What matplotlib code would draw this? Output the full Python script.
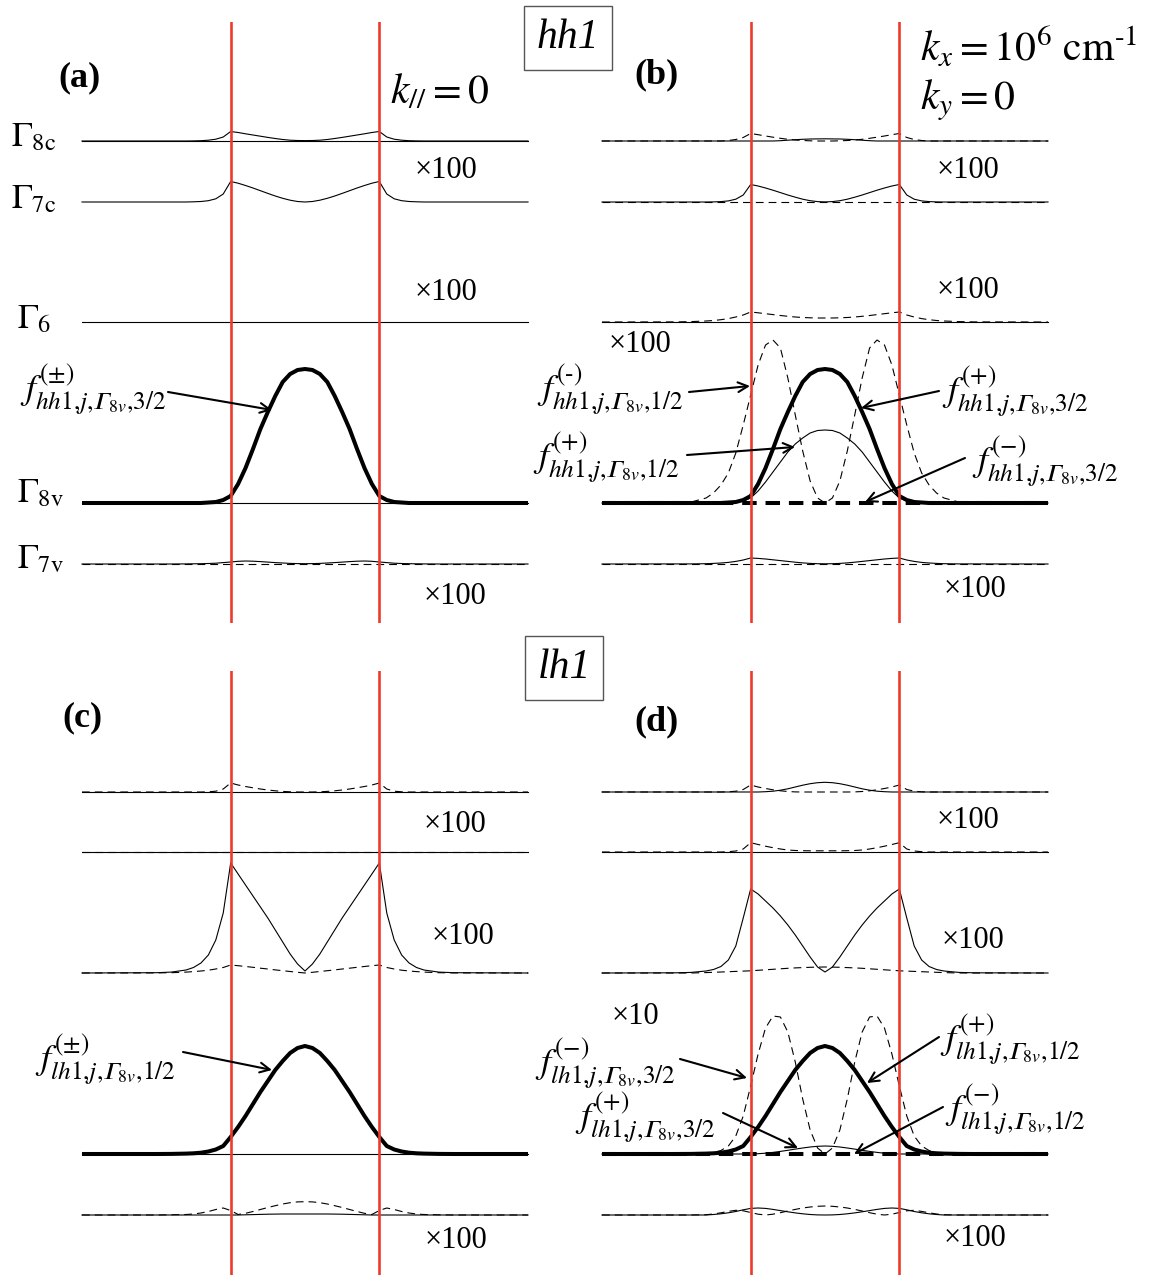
import matplotlib
matplotlib.use("Agg")
import matplotlib.pyplot as plt
import numpy as np

plt.rcParams['font.family'] = ['Liberation Serif', 'DejaVu Serif']
plt.rcParams['mathtext.fontset'] = 'stix'

W, H = 1153, 1277

# ---------------- data ----------------
# sample positions along growth axis, in units of the well width (well = 0..1)
XS = [-1.0, -0.5, -0.4, -0.3, -0.25, -0.2, -0.15, -0.1, -0.05,
      0.0, 0.05, 0.1, 0.15, 0.2, 0.25, 0.3, 0.35, 0.4, 0.45, 0.5,
      0.55, 0.6, 0.65, 0.7, 0.75, 0.8, 0.85, 0.9, 0.95, 1.0,
      1.05, 1.1, 1.15, 1.2, 1.25, 1.3, 1.4, 1.5, 2.0]
WELL_EDGES = [0.0, 1.0]
ZERO = [0.0] * 39

# displayed envelope amplitudes (a.u., including the x100 / x10 magnifications)
HH1_MAIN = [0, 0, 0, 0, 0, 0, 0.5, 1, 3,
            7, 19, 35, 54, 74, 91, 107, 121, 129, 133, 134, 133, 129, 121, 107, 91, 74, 54, 35, 19, 7,
            3, 1, 0.5, 0, 0, 0, 0, 0, 0]
LH1_MAIN = [0, 0, 0.1, 0.4, 0.7, 1.3, 2.5, 4.5, 8,
            17, 27, 38, 50, 62, 73, 84, 93, 101, 106, 108, 106, 101, 93, 84, 73, 62, 50, 38, 27, 17,
            8, 4.5, 2.5, 1.3, 0.7, 0.4, 0.1, 0, 0]

# panel (a)  hh1, k=0
A_G8C = [0, 0, 0, 0, 0.1, 0.3, 0.8, 1.8, 4,
         9.5, 8.5, 7.2, 6.0, 4.8, 3.6, 2.5, 1.5, 0.8, 0.5, 0.4, 0.5, 0.8, 1.5, 2.5, 3.6, 4.8, 6.0, 7.2, 8.5, 9.5,
         4, 1.8, 0.8, 0.3, 0.1, 0, 0, 0, 0]
A_G7C = [0, 0, 0, 0, 0.2, 0.5, 1.3, 3.2, 8,
         20.5, 18.8, 16.5, 14.0, 11.3, 8.6, 6.0, 3.7, 1.8, 0.5, 0, 0.5, 1.8, 3.7, 6.0, 8.6, 11.3, 14.0, 16.5, 18.8, 20.5,
         8, 3.2, 1.3, 0.5, 0.2, 0, 0, 0, 0]
A_G7V = [0, 0, 0, 0.1, 0.2, 0.3, 0.5, 0.8, 1.4,
         2.0, 2.7, 3.0, 2.8, 2.4, 1.9, 1.4, 1.0, 0.6, 0.4, 0.3, 0.4, 0.6, 1.0, 1.4, 1.9, 2.4, 2.8, 3.0, 2.7, 2.0,
         1.4, 0.8, 0.5, 0.3, 0.2, 0.1, 0, 0, 0]

# panel (b)  hh1, kx = 1e6 cm^-1
B_G8C_D = [0, 0, 0, 0, 0, 0, 0.5, 1.5, 3.5,
           7.5, 6.3, 5.0, 3.8, 2.7, 1.7, 1.0, 0.5, 0.2, 0, 0, 0, 0.2, 0.5, 1.0, 1.7, 2.7, 3.8, 5.0, 6.3, 7.5,
           3.5, 1.5, 0.5, 0, 0, 0, 0, 0, 0]
B_G8C_S = [0, 0, 0, 0, 0, 0, 0, 0, 0,
           0, 0, 0, 0, 0.3, 0.8, 1.3, 1.7, 2.0, 2.1, 2.2, 2.1, 2.0, 1.7, 1.3, 0.8, 0.3, 0, 0, 0, 0,
           0, 0, 0, 0, 0, 0, 0, 0, 0]
B_G7C = [0, 0, 0, 0, 0.1, 0.4, 1.1, 2.8, 7,
         17.5, 16.0, 14.0, 11.8, 9.4, 7.0, 4.8, 2.8, 1.3, 0.4, 0.1, 0.4, 1.3, 2.8, 4.8, 7.0, 9.4, 11.8, 14.0, 16.0, 17.5,
         7, 2.8, 1.1, 0.4, 0.1, 0, 0, 0, 0]
B_G6_D = [0, 0.1, 0.4, 1.0, 1.5, 2.3, 3.4, 5.0, 7.0,
          10.0, 9.2, 8.3, 7.4, 6.5, 5.7, 5.0, 4.5, 4.2, 4.0, 4.0, 4.0, 4.2, 4.5, 5.0, 5.7, 6.5, 7.4, 8.3, 9.2, 10.0,
          7.0, 5.0, 3.4, 2.3, 1.5, 1.0, 0.4, 0.1, 0]
B_F12_P = [0, 0, 0, 0, 0, 0, 0.3, 0.8, 2,
           5, 12, 21, 31, 41, 51, 59, 65, 70, 72.5, 73, 72.5, 70, 65, 59, 51, 41, 31, 21, 12, 5,
           2, 0.8, 0.3, 0, 0, 0, 0, 0, 0]
B_F12_M = [0, 0, 1, 5, 10, 18, 30, 50, 78,
           108, 138, 158, 163, 155, 125, 88, 52, 22, 5, 0, 5, 22, 52, 88, 125, 155, 163, 158, 138, 108,
           78, 50, 30, 18, 10, 5, 1, 0, 0]
B_G7V = [0, 0.1, 0.1, 0.3, 0.6, 1.0, 1.6, 2.6, 4.0,
         6.0, 5.6, 5.0, 4.2, 3.4, 2.6, 1.8, 1.1, 0.6, 0.3, 0.2, 0.3, 0.6, 1.1, 1.8, 2.6, 3.4, 4.2, 5.0, 5.6, 6.0,
         4.0, 2.6, 1.6, 1.0, 0.6, 0.3, 0.1, 0.1, 0]

# panel (c)  lh1, k=0
C_R1_D = [0, 0, 0, 0, 0, 0, 0.2, 0.8, 3,
          9, 7, 5.5, 4.2, 3.0, 2.0, 1.2, 0.6, 0.2, 0, 0, 0, 0.2, 0.6, 1.2, 2.0, 3.0, 4.2, 5.5, 7, 9,
          3, 0.8, 0.2, 0, 0, 0, 0, 0, 0]
C_R3_S = [0, 0.3, 0.9, 3, 5.5, 10, 18, 33, 60,
          110, 99, 88, 77, 66, 55, 43, 31, 19, 9, 2, 9, 19, 31, 43, 55, 66, 77, 88, 99, 110,
          60, 33, 18, 10, 5.5, 3, 0.9, 0.3, 0]
C_R3_D = [0, 0.1, 0.3, 0.9, 1.4, 2.0, 2.8, 4.0, 5.5,
          8, 7.3, 6.5, 5.7, 4.8, 4.0, 3.1, 2.3, 1.5, 0.7, 0, 0.7, 1.5, 2.3, 3.1, 4.0, 4.8, 5.7, 6.5, 7.3, 8,
          5.5, 4.0, 2.8, 2.0, 1.4, 0.9, 0.3, 0.1, 0]
C_R5_S = [0, 0, 0, 0, 0, 0, 0, 0, 0,
          0, 0, 0.2, 0.4, 0.6, 0.8, 0.9, 1.0, 1.0, 1.0, 1.0, 1.0, 1.0, 1.0, 0.9, 0.8, 0.6, 0.4, 0.2, 0, 0,
          0, 0, 0, 0, 0, 0, 0, 0, 0]
C_R5_D = [0, 0, 0.2, 0.5, 1.0, 2.0, 3.5, 5.5, 7.0,
          4.5, 0.5, 1.7, 3.5, 5.5, 7.5, 9.3, 11.0, 12.3, 13.1, 13.3, 13.1, 12.3, 11.0, 9.3, 7.5, 5.5, 3.5, 1.7, 0.5, 4.5,
          7.0, 5.5, 3.5, 2.0, 1.0, 0.5, 0.2, 0, 0]

# panel (d)  lh1, kx = 1e6 cm^-1
D_R1_S = [0, 0, 0, 0, 0, 0, 0, 0, 0,
          0, 0, 0.3, 0.8, 1.8, 3.2, 5.0, 6.8, 8.3, 9.3, 9.7, 9.3, 8.3, 6.8, 5.0, 3.2, 1.8, 0.8, 0.3, 0, 0,
          0, 0, 0, 0, 0, 0, 0, 0, 0]
D_R1_D = [0, 0, 0, 0, 0, 0, 0.2, 0.8, 2.5,
          7, 5, 3.5, 2.2, 1.2, 0.5, 0.1, 0, 0, 0, 0, 0, 0, 0, 0.1, 0.5, 1.2, 2.2, 3.5, 5, 7,
          2.5, 0.8, 0.2, 0, 0, 0, 0, 0, 0]
D_R2_D = [0, 0, 0, 0, 0, 0, 0.3, 1.0, 3.0,
          9.3, 7.5, 5.8, 4.3, 3.0, 2.0, 1.5, 1.3, 1.2, 1.2, 1.2, 1.2, 1.2, 1.3, 1.5, 2.0, 3.0, 4.3, 5.8, 7.5, 9.3,
          3.0, 1.0, 0.3, 0, 0, 0, 0, 0, 0]
D_R3_S = [0, 0.2, 0.6, 2.0, 3.5, 6.5, 13, 27, 55,
          84, 79, 72, 65, 57, 48, 38, 27, 16, 6, 1, 6, 16, 27, 38, 48, 57, 65, 72, 79, 84,
          55, 27, 13, 6.5, 3.5, 2.0, 0.6, 0.2, 0]
D_R3_D = [0, 0, 0, 0.4, 0.7, 1.0, 1.3, 1.6, 1.9,
          2.2, 2.7, 3.2, 3.7, 4.2, 4.7, 5.1, 5.4, 5.7, 5.9, 6.0, 5.9, 5.7, 5.4, 5.1, 4.7, 4.2, 3.7, 3.2, 2.7, 2.2,
          1.9, 1.6, 1.3, 1.0, 0.7, 0.4, 0, 0, 0]
D_F32_M = [0, 0, 0, 0.5, 1.5, 3.5, 8, 18, 38,
           68, 100, 126, 138, 137, 122, 92, 55, 24, 6, 0, 6, 24, 55, 92, 122, 137, 138, 126, 100, 68,
           38, 18, 8, 3.5, 1.5, 0.5, 0, 0, 0]
D_F32_P = [0, 0, 0, 0, 0, 0, 0, 0, 0,
           0, 0.3, 0.8, 1.6, 2.6, 3.7, 4.9, 6.0, 7.0, 7.7, 8.0, 7.7, 7.0, 6.0, 4.9, 3.7, 2.6, 1.6, 0.8, 0.3, 0,
           0, 0, 0, 0, 0, 0, 0, 0, 0]
D_R5_S = [0, 0, 0, 0, 0.5, 1.2, 2.2, 3.5, 5.2,
          6.6, 7.0, 6.6, 5.6, 4.4, 3.2, 2.1, 1.2, 0.5, 0.1, 0, 0.1, 0.5, 1.2, 2.1, 3.2, 4.4, 5.6, 6.6, 7.0, 6.6,
          5.2, 3.5, 2.2, 1.2, 0.5, 0, 0, 0, 0]
D_R5_D = [0, 0, 0, 0.3, 1.0, 2.2, 3.6, 4.7, 4.2,
          2.5, 0.8, 0, 0.8, 2.3, 4.0, 5.6, 7.0, 8.0, 8.7, 9.0, 8.7, 8.0, 7.0, 5.6, 4.0, 2.3, 0.8, 0, 0.8, 2.5,
          4.2, 4.7, 3.6, 2.2, 1.0, 0.3, 0, 0, 0]

BAND_LABELS = [r"$\Gamma_{\rm 8c}$", r"$\Gamma_{\rm 7c}$", r"$\Gamma_{\rm 6}$",
               r"$\Gamma_{\rm 8v}$", r"$\Gamma_{\rm 7v}$"]

# ---------------- styles ----------------
RED = '#ec3b2c'
THIN = dict(color='black', lw=0.8)
THIN_D = dict(color='black', lw=0.8, dashes=(7, 4.5))
THICK = dict(color='black', lw=2.9, solid_capstyle='butt', solid_joinstyle='round')
THICK_D = dict(color='black', lw=2.9, dashes=(3.6, 2.2), dash_capstyle='butt')

fig = plt.figure(figsize=(W / 100, H / 100), dpi=100)


def fpos(x, y):
    return (x / W, 1 - y / H)


def panel(left, top, width, height, baselines, rows):
    ax = fig.add_axes([left / W, 1 - (top + height) / H, width / W, height / H])
    ax.set_xlim(-1, 2)
    ax.set_ylim(0, height)
    ax.axis('off')
    for base, curves in zip(baselines, rows):
        for vals, style in curves:
            ax.plot(XS, base + np.asarray(vals, dtype=float), clip_on=False, **style)
    for xe in WELL_EDGES:
        ax.axvline(xe, color=RED, lw=1.9, zorder=5)
    return ax


TOP_BASES = [482, 421, 301, 120, 59]
BOT_BASES = [483, 423, 302, 121, 60]

# (a)
panel(82, 22, 446, 601, TOP_BASES, [
    [(ZERO, THIN), (A_G8C, THIN)],
    [(A_G7C, THIN)],
    [(ZERO, THIN)],
    [(ZERO, THIN), (HH1_MAIN, THICK)],
    [(ZERO, THIN_D), (A_G7V, THIN)],
])
# (b)
panel(602, 22, 446, 601, TOP_BASES, [
    [(B_G8C_D, THIN_D), (B_G8C_S, THIN)],
    [(ZERO, THIN_D), (B_G7C, THIN)],
    [(B_G6_D, THIN_D), (ZERO, THIN)],
    [(ZERO, THICK_D), (B_F12_M, THIN_D), (B_F12_P, THIN), (HH1_MAIN, THICK)],
    [(ZERO, THIN_D), (B_G7V, THIN)],
])
# (c)
panel(82, 671, 446, 604, BOT_BASES, [
    [(C_R1_D, THIN_D), (ZERO, THIN)],
    [(ZERO, THIN_D), (ZERO, THIN)],
    [(C_R3_D, THIN_D), (C_R3_S, THIN)],
    [(ZERO, THIN), (LH1_MAIN, THICK)],
    [(C_R5_D, THIN_D), (C_R5_S, THIN)],
])
# (d)
panel(602, 671, 446, 604, BOT_BASES, [
    [(D_R1_D, THIN_D), (D_R1_S, THIN)],
    [(D_R2_D, THIN_D), (ZERO, THIN)],
    [(D_R3_D, THIN_D), (D_R3_S, THIN)],
    [(ZERO, THICK_D), (D_F32_M, THIN_D), (D_F32_P, THIN), (LH1_MAIN, THICK)],
    [(D_R5_D, THIN_D), (D_R5_S, THIN)],
])

# ---------------- text ----------------
# band labels (panel a)
for lab, (x, y) in zip(BAND_LABELS, [(11, 146), (11, 208), (17, 328), (17, 502), (17, 568)]):
    fig.text(*fpos(x, y), lab, fontsize=25, ha='left', va='baseline')

for lab, (x, y) in zip(['(a)', '(b)', '(c)', '(d)'], [(80, 78), (657, 75), (82, 718), (657, 722)]):
    fig.text(*fpos(x, y), lab, fontsize=26, fontweight='bold', ha='center', va='center')

for lab, (x, y) in zip(['hh1', 'lh1'], [(568, 38), (564, 668)]):
    fig.text(*fpos(x, y), lab, fontsize=30, style='italic', ha='center', va='center',
             bbox=dict(boxstyle='square,pad=0.3', fc='white', ec='#555555', lw=1.0))

fig.text(*fpos(390, 93), r"$k_{//}=0$", fontsize=30, ha='left', va='center')
fig.text(*fpos(920, 48), r"$k_x = 10^6\ \mathrm{cm}^{\text{-}1}$", fontsize=30, ha='left', va='center')
fig.text(*fpos(920, 100), r"$k_y = 0$", fontsize=30, ha='left', va='center')

MAG_LABELS = ['×100'] * 13 + ['×10']
MAG_POS = [(446, 170), (446, 293), (455, 596),
           (968, 170), (968, 290), (975, 590), (640, 345),
           (455, 824), (463, 937), (456, 1240),
           (968, 821), (973, 941), (975, 1238), (635, 1016)]
for lab, (x, y) in zip(MAG_LABELS, MAG_POS):
    fig.text(*fpos(x, y), lab, fontsize=22, ha='center', va='center')

# component labels with arrows: (text, text-left/center-y, arrow tail, arrow head)
G8V = "\U0001D6E4_{8v}"
F_LABELS = [
    (r"$f^{(\pm)}_{hh1{,}j{,}" + G8V + r"{,}3/2}$", (20, 390), (168, 392), (272, 410)),
    (r"$f^{(\text{-})}_{hh1{,}j{,}" + G8V + r"{,}1/2}$", (537, 390), (689, 392), (750, 386)),
    (r"$f^{(+)}_{hh1{,}j{,}" + G8V + r"{,}1/2}$", (533, 458), (687, 455), (795, 447)),
    (r"$f^{(+)}_{hh1{,}j{,}" + G8V + r"{,}3/2}$", (942, 392), (939, 391), (861, 408)),
    (r"$f^{(-)}_{hh1{,}j{,}" + G8V + r"{,}3/2}$", (972, 462), (965, 458), (865, 502)),
    (r"$f^{(\pm)}_{lh1{,}j{,}" + G8V + r"{,}1/2}$", (35, 1060), (183, 1052), (272, 1070)),
    (r"$f^{(-)}_{lh1{,}j{,}" + G8V + r"{,}3/2}$", (535, 1064), (680, 1059), (747, 1078)),
    (r"$f^{(+)}_{lh1{,}j{,}" + G8V + r"{,}3/2}$", (575, 1118), (723, 1113), (798, 1148)),
    (r"$f^{(+)}_{lh1{,}j{,}" + G8V + r"{,}1/2}$", (940, 1040), (939, 1037), (867, 1083)),
    (r"$f^{(-)}_{lh1{,}j{,}" + G8V + r"{,}1/2}$", (945, 1110), (943, 1107), (854, 1154)),
]
for txt, (tx, ty), tail, head in F_LABELS:
    fig.text(*fpos(tx, ty), txt, fontsize=26, ha='left', va='center')
    fig.add_artist(matplotlib.patches.FancyArrowPatch(
        fpos(*tail), fpos(*head), transform=fig.transFigure,
        arrowstyle='->,head_length=7,head_width=3.5', lw=1.5, color='black',
        shrinkA=0, shrinkB=0, zorder=10))

fig.savefig('out.png', dpi=100)
